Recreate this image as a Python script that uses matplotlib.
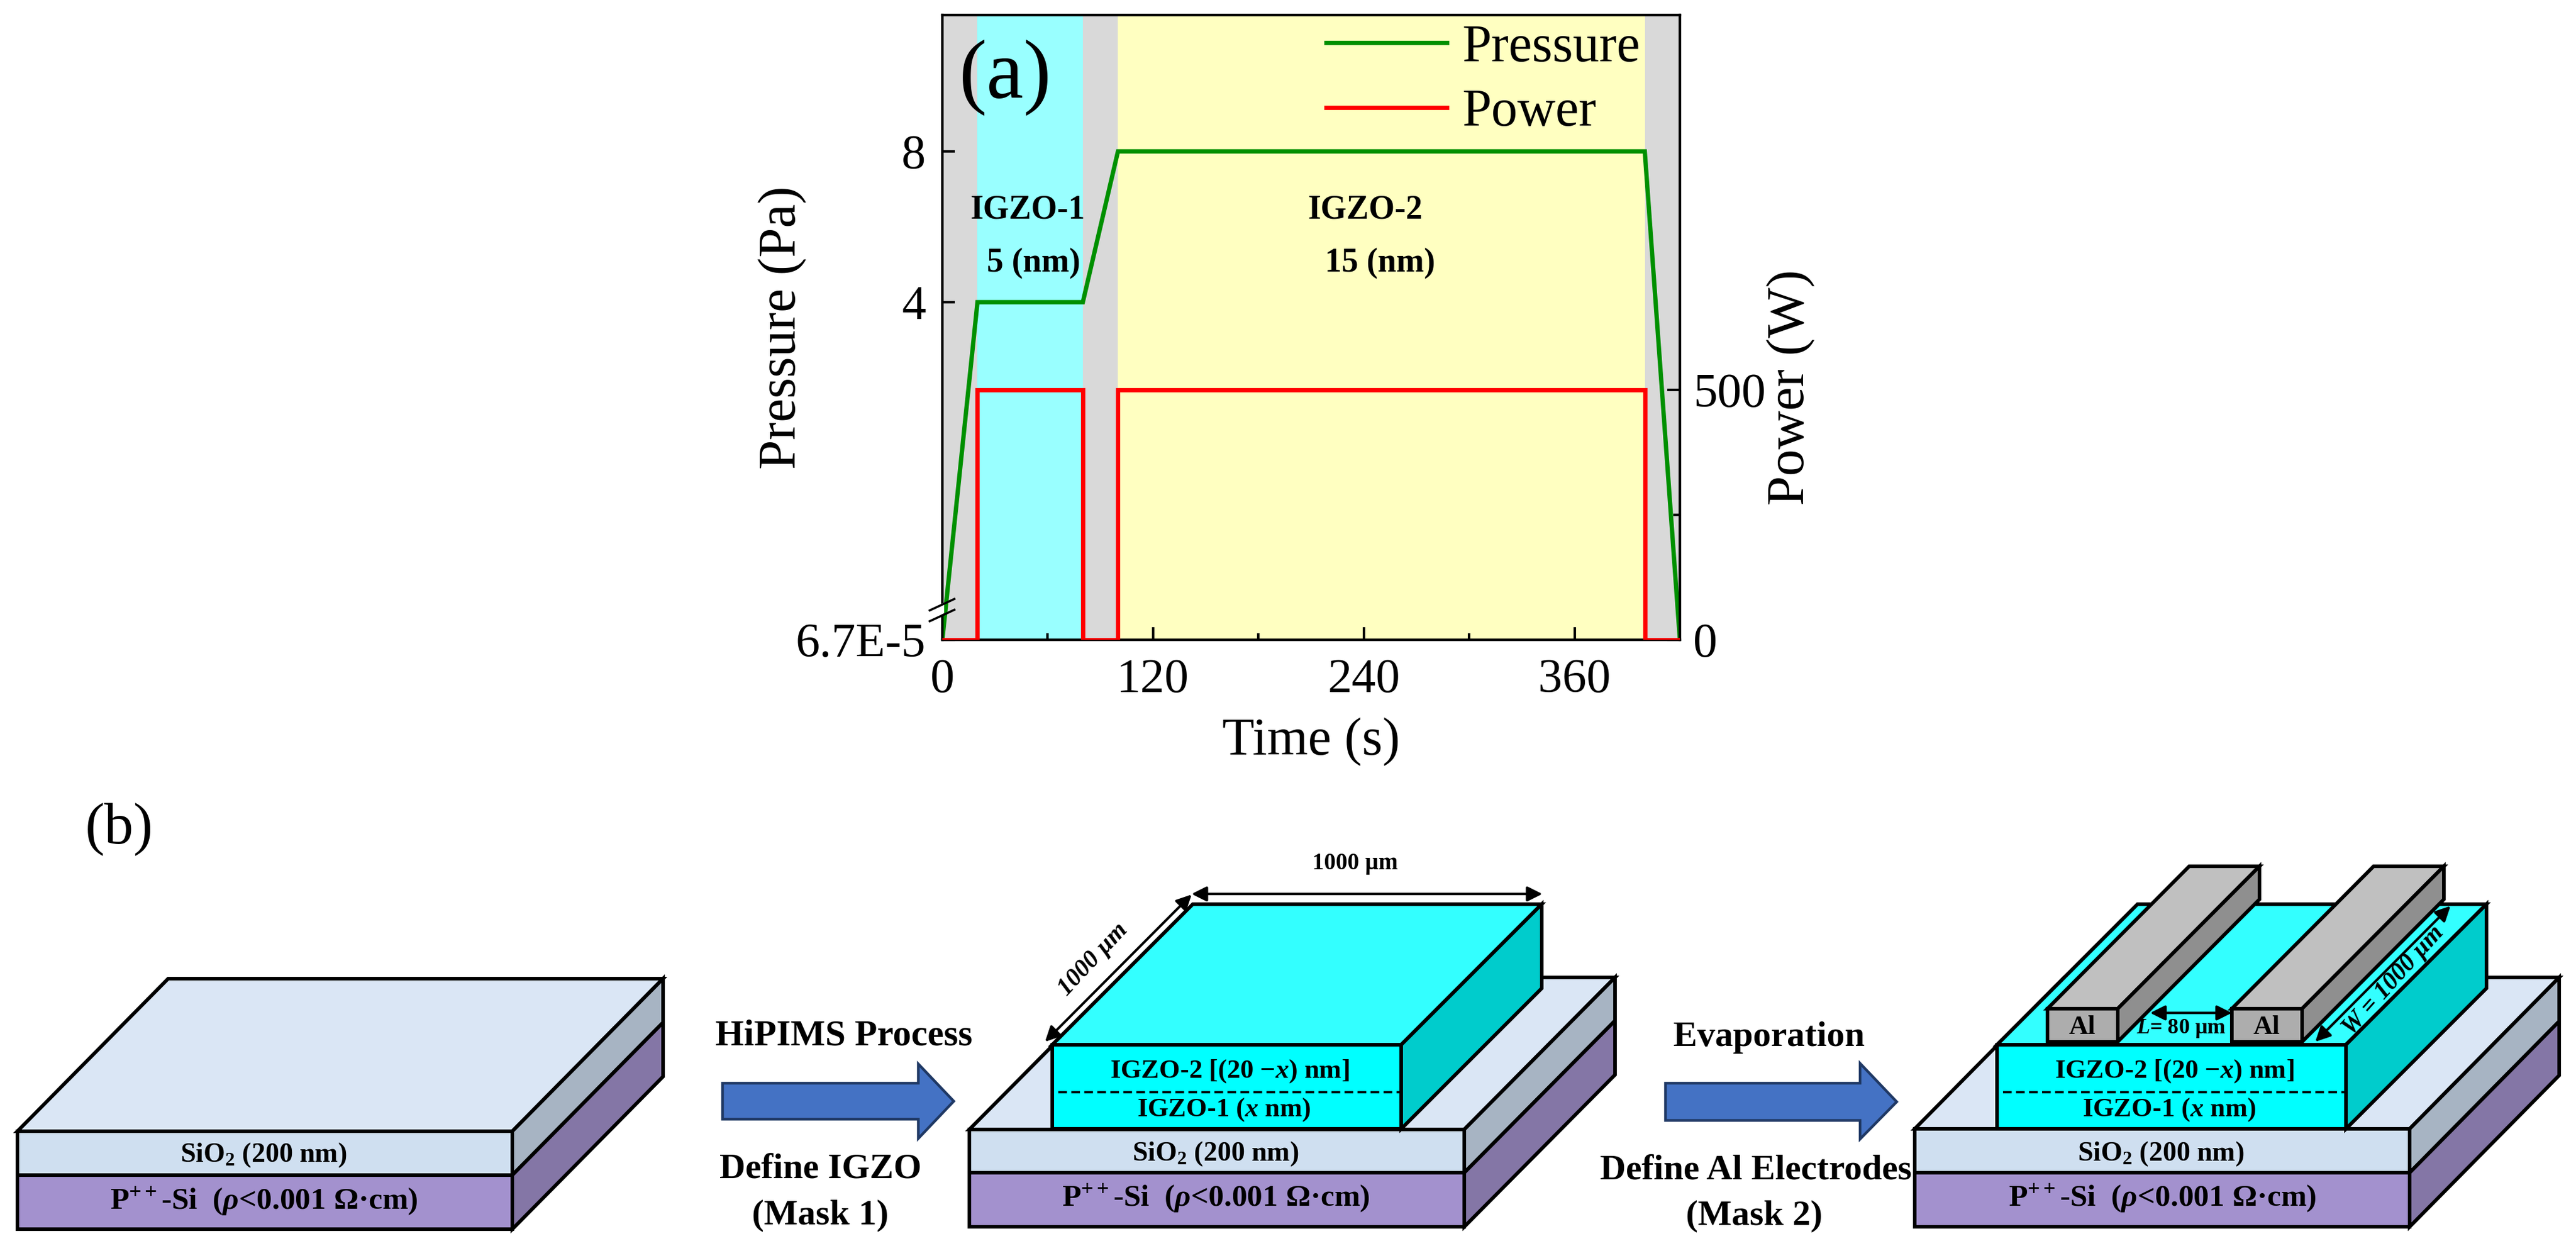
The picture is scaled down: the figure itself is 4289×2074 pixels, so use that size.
import numpy as np
import matplotlib
matplotlib.use("Agg")
import matplotlib.pyplot as plt
from matplotlib.patches import Polygon, FancyArrowPatch
from matplotlib.lines import Line2D

plt.rcParams["font.family"] = ["Liberation Serif", "DejaVu Serif"]
plt.rcParams["mathtext.fontset"] = "custom"
plt.rcParams["mathtext.rm"] = "Liberation Serif:bold"
plt.rcParams["mathtext.it"] = "Liberation Serif:italic:bold"
plt.rcParams["mathtext.bf"] = "Liberation Serif:bold"

W, H = 4289, 2074
DPI = 100

# ---- chart data
time_pressure = [0, 20, 80, 100, 400, 420]
pressure = [6.7e-5, 4, 4, 8, 8, 6.7e-5]
time_power = [0, 20, 20, 80, 80, 100, 100, 400, 400, 420]
power = [0, 0, 500, 500, 0, 0, 500, 500, 0, 0]
stage_grey = (0, 420)
stage_igzo1 = (20, 80)
stage_igzo2 = (100, 400)
x_major = [0, 120, 240, 360]
x_minor = [60, 180, 300]
p_ticks = [6.7e-5, 4, 8]
p_labels = ["6.7E-5", "4", "8"]
w_ticks = [0, 500]
w_minor = [250]

# broken pressure axis: pressure value -> height above the bottom
scale_p = [6.7e-5, 4, 8, 11.62]
scale_h = [0, 562, 813, 1040]

fig = plt.figure(figsize=(W / DPI, H / DPI), dpi=DPI, facecolor="white")
L, R, T, B = 1569, 2797, 25, 1065
ax = fig.add_axes([L / W, 1 - B / H, (R - L) / W, (B - T) / H])
ax.set_yscale("function", functions=(lambda v: np.interp(v, scale_p, scale_h),
                                     lambda v: np.interp(v, scale_h, scale_p)))
ax.set_xlim(0, 420)
ax.set_ylim(scale_p[0], scale_p[-1])
ax.axvspan(*stage_grey, color="#D9D9D9", lw=0, zorder=0)
ax.axvspan(*stage_igzo1, color="#99FFFF", lw=0, zorder=1)
ax.axvspan(*stage_igzo2, color="#FFFFC1", lw=0, zorder=1)
line_p, = ax.plot(time_pressure, pressure, color="#009000", lw=5.2, zorder=3,
                  solid_joinstyle="miter")
ax.set_xticks(x_major)
ax.set_xticks(x_minor, minor=True)
ax.set_yticks(p_ticks)
ax.set_yticklabels(p_labels)
ax.yaxis.set_minor_locator(matplotlib.ticker.NullLocator())

ax2 = ax.twinx()
ax2.set_ylim(0, 1250)
line_w, = ax2.plot(time_power, power, color="#FF0000", lw=5.2, zorder=3,
                   solid_joinstyle="miter")
ax2.set_yticks(w_ticks)
ax2.set_yticks(w_minor, minor=True)

for a in (ax, ax2):
    for s in a.spines.values():
        s.set_linewidth(3.0)
    a.tick_params(which="major", direction="in", length=15, width=3.0, labelsize=58)
    a.tick_params(which="minor", direction="in", length=8, width=3.0)
ax.tick_params(axis="x", pad=22)
ax.tick_params(axis="y", pad=20)
ax2.tick_params(axis="y", pad=16)

ax.set_xlabel("Time (s)", fontsize=63, va="center", ha="center")
ax.xaxis.set_label_coords(0.5, -0.163)
ax.set_ylabel("Pressure (Pa)", fontsize=64, va="center", ha="center", rotation=90)
ax.yaxis.set_label_coords(-0.2166, 0.5)
ax2.set_ylabel("Power (W)", fontsize=64, va="center", ha="center", rotation=90)
ax2.yaxis.set_label_coords(1.15, 0.404)

ax2.legend([line_p, line_w], ["Pressure", "Power"], loc="upper left",
           bbox_to_anchor=((2208 - L) / (R - L), (B - 40) / (B - T)),
           frameon=False, fontsize=63, borderpad=0, borderaxespad=0,
           handlelength=2.3, handletextpad=0.29, labelspacing=0.3)

# ---- overlay in picture pixels for annotations and the device diagrams
ov = fig.add_axes([0, 0, 1, 1], zorder=10)
ov.set_xlim(0, W)
ov.set_ylim(H, 0)
ov.axis("off")
ov.patch.set_visible(False)


def txt(x, y, s, size, bold=True, **kw):
    kw.setdefault("ha", "center")
    kw.setdefault("va", "center")
    ov.text(x, y, s, fontsize=size, fontweight="bold" if bold else "normal", **kw)


def poly(pts, color, lw=4.3, edge="black", z=2):
    ov.add_patch(Polygon(pts, closed=True, facecolor=color, edgecolor=edge, lw=lw,
                         joinstyle="miter", zorder=z))


def base(xl, xr, yt, ym, yb, dx, dy):
    poly([(xl, yt), (xr, yt), (xr + dx, yt + dy), (xl + dx, yt + dy)], "#DAE6F5")
    poly([(xr, yt), (xr + dx, yt + dy), (xr + dx, ym + dy), (xr, ym)], "#A7B4C3")
    poly([(xr, ym), (xr + dx, ym + dy), (xr + dx, yb + dy), (xr, yb)], "#8476A6")
    poly([(xl, ym), (xr, ym), (xr, yb), (xl, yb)], "#A391CE")
    poly([(xl, yt), (xr, yt), (xr, ym), (xl, ym)], "#CFDFF0")


def box(xl, xr, yt, yb, dx, dy, top, front, side, z=3, lw=4.3):
    poly([(xl, yt), (xr, yt), (xr + dx, yt + dy), (xl + dx, yt + dy)], top, z=z, lw=lw)
    poly([(xr, yt), (xr + dx, yt + dy), (xr + dx, yb + dy), (xr, yb)], side, z=z, lw=lw)
    poly([(xl, yt), (xr, yt), (xr, yb), (xl, yb)], front, z=z, lw=lw)


def dbl(p, q, z=6):
    ov.add_patch(FancyArrowPatch(p, q, arrowstyle="<|-|>,head_length=15,head_width=7.5",
                                 mutation_scale=1, lw=3, color="black", shrinkA=0,
                                 shrinkB=0, zorder=z))


def arrow(x0, xn, xt, y0, y1, yht, yhb):
    ym = (y0 + y1) / 2
    poly([(x0, y0), (xn, y0), (xn, yht), (xt, ym), (xn, yhb), (xn, y1), (x0, y1)],
         "#4472C4", lw=3.2, edge="#1F3864")


SIO2 = r"SiO$_{2}$ (200 nm)"
PSI = r"P$^{++}$-Si  ($\rho$<0.001 Ω·cm)"
IG2 = r"IGZO-2 [(20 −$x$) nm]"
IG1 = r"IGZO-1 ($x$ nm)"

# panel labels and inset notes of (a)
txt(1674, 130, "(a)", 100, bold=False)
txt(198, 1381, "(b)", 70, bold=False)
txt(1711, 350, "IGZO-1", 40)
txt(1721, 438, "5 (nm)", 40)
txt(2273, 350, "IGZO-2", 40)
txt(2298, 438, "15 (nm)", 40)

# axis break marks
ov.add_patch(Polygon([(1565, 1006), (1572, 1003), (1572, 1021), (1565, 1024)],
                     facecolor="white", edgecolor="none", zorder=5))
ov.plot([1548, 1589], [1016, 997], color="black", lw=2.6, zorder=6)
ov.plot([1548, 1589], [1034, 1015], color="black", lw=2.6, zorder=6)

# first device
base(29, 853, 1883, 1956, 2046, 251, -254)
txt(439, 1923, SIO2, 33)
txt(439, 2000, PSI, 37)
arrow(1203, 1529, 1588, 1803, 1863, 1771, 1895)
txt(1405, 1725, "HiPIMS Process", 44)
txt(1366, 1948, "Define IGZO", 43)
txt(1366, 2023, "(Mask 1)", 43)

# second device
base(1614, 2438, 1880, 1952, 2042, 251, -253)
box(1752, 2333, 1739, 1879, 234, -234, "#33FFFF", "#00FFFF", "#00CCCC")
ov.plot([1762, 2333], [1818, 1818], color="black", lw=2.6, dashes=(4, 2), zorder=5)
txt(2047, 1783, IG2, 32)
txt(2038, 1847, IG1, 32)
txt(2024, 1921, SIO2, 33)
txt(2024, 1995, PSI, 37)
dbl((1984, 1488), (2568, 1488))
dbl((1740, 1734), (1984, 1489))
txt(2256, 1438, "1000 µm", 28)
txt(1820, 1597, "1000 µm", 30, style="italic", rotation=47)

# third device
arrow(2773, 3097, 3158, 1803, 1865, 1770, 1896)
txt(2945, 1727, "Evaporation", 43)
txt(2923, 1949, "Define Al Electrodes", 43)
txt(2921, 2024, "(Mask 2)", 43)
base(3188, 4012, 1879, 1952, 2042, 249, -252)
box(3325, 3906, 1739, 1879, 234, -234, "#33FFFF", "#00FFFF", "#00CCCC")
ov.plot([3335, 3906], [1818, 1818], color="black", lw=2.6, dashes=(4, 2), zorder=5)
for xl, xr in [(3409, 3526), (3716, 3833)]:
    box(xl, xr, 1679, 1734, 236, -237, "#C0C0C0", "#ADADAD", "#8F8F8F", z=4)
txt(3467, 1710, "Al", 32, zorder=7)
txt(3774, 1710, "Al", 32, zorder=7)
dbl((3580, 1686), (3716, 1686))
txt(3632, 1712, r"$L$= 80 µm", 26)
dbl((3855, 1734), (4080, 1508))
txt(3985, 1632, "W = 1000 µm", 30, style="italic", rotation=48)
txt(3620, 1783, IG2, 32)
txt(3612, 1847, IG1, 32)
txt(3598, 1921, SIO2, 33)
txt(3600, 1995, PSI, 37)

fig.savefig("out.png", dpi=DPI, facecolor="white")
